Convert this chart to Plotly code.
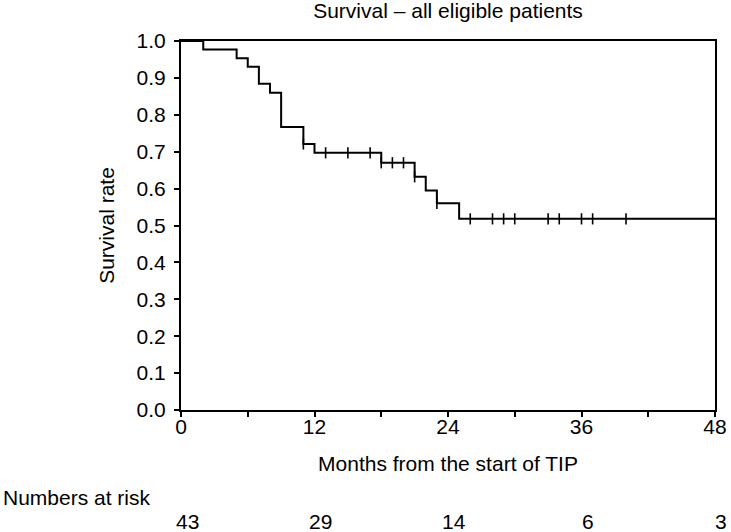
import plotly.graph_objects as go

# Kaplan-Meier step data
event_times = [0, 2, 5, 6, 7, 8, 9, 11, 12, 18, 21, 22, 23, 25, 48]
survival = [1.0, 0.977, 0.953, 0.930, 0.884, 0.860, 0.767, 0.721, 0.697,
            0.670, 0.632, 0.595, 0.560, 0.518, 0.518]
censor_times = [11, 13, 15, 17, 18, 19, 20, 21, 23, 26, 28, 29, 30,
                33, 34, 36, 37, 40]

# numbers at risk
risk_times = [0, 12, 24, 36, 48]
risk_counts = [43, 29, 14, 6, 3]

# ticks
x_ticks = [0, 6, 12, 18, 24, 30, 36, 42, 48]
x_tick_labels = ["0", "", "12", "", "24", "", "36", "", "48"]
y_ticks = [0.0, 0.1, 0.2, 0.3, 0.4, 0.5, 0.6, 0.7, 0.8, 0.9, 1.0]


def level_at(t):
    lvl = survival[0]
    for et, s in zip(event_times, survival):
        if et <= t:
            lvl = s
    return lvl


censor_levels = [level_at(t) for t in censor_times]

FONT = "Liberation Sans, Arial, Helvetica, sans-serif"
FS = 21
W, H = 731, 532
L, R, T, B = 181, 16, 41, 122
pw, ph = W - L - R, H - T - B
fnt = dict(family=FONT, size=FS, color="black")

fig = go.Figure()
fig.add_trace(go.Scatter(
    x=event_times, y=survival, mode="lines",
    line=dict(color="black", width=2, shape="hv"),
    showlegend=False, hoverinfo="skip", cliponaxis=False))
fig.add_trace(go.Scatter(
    x=censor_times, y=censor_levels, mode="markers",
    marker=dict(symbol="line-ns", size=8, line=dict(color="black", width=1.6)),
    showlegend=False, cliponaxis=False))

annotations = [dict(
    text="Numbers at risk", xref="paper", yref="paper",
    x=(1 - L) / pw, y=(T + ph - 497) / ph, xanchor="left", yanchor="middle",
    showarrow=False, font=fnt)]
for t, n in zip(risk_times, risk_counts):
    annotations.append(dict(
        text=str(n), xref="x", yref="paper", x=t, xshift=6,
        y=(T + ph - 521) / ph, xanchor="center", yanchor="middle",
        showarrow=False, font=fnt))

fig.update_layout(
    width=W, height=H,
    margin=dict(l=L, r=R, t=T, b=B, autoexpand=False),
    paper_bgcolor="white", plot_bgcolor="white",
    font=fnt,
    title=dict(text="Survival \u2013 all eligible patients", x=0.5, xref="paper",
               xanchor="center", y=1 - 11 / H, yanchor="middle", font=fnt),
    xaxis=dict(range=[0, 48], tickvals=x_ticks, ticktext=x_tick_labels,
               ticks="outside", ticklen=5, tickwidth=1.5, tickcolor="black",
               tickfont=fnt, ticklabelstandoff=-8,
               showline=True, linewidth=2, linecolor="black", mirror=True,
               showgrid=False, zeroline=False, fixedrange=True,
               title=dict(text="Months from the start of TIP", standoff=19, font=fnt),
               automargin=False),
    yaxis=dict(range=[0, 1], tickvals=y_ticks, tickformat=".1f",
               ticks="outside", ticklen=5, tickwidth=1.5, tickcolor="black",
               ticklabelstandoff=4, tickfont=fnt,
               showline=True, linewidth=2, linecolor="black", mirror=True,
               showgrid=False, zeroline=False, fixedrange=True,
               title=dict(text="Survival rate", standoff=16, font=fnt),
               automargin=False),
    annotations=annotations,
)

fig.write_html("out.html", config={"displayModeBar": False},
               post_script="document.body.style.margin='0';"
                           "document.body.style.padding='0';")
